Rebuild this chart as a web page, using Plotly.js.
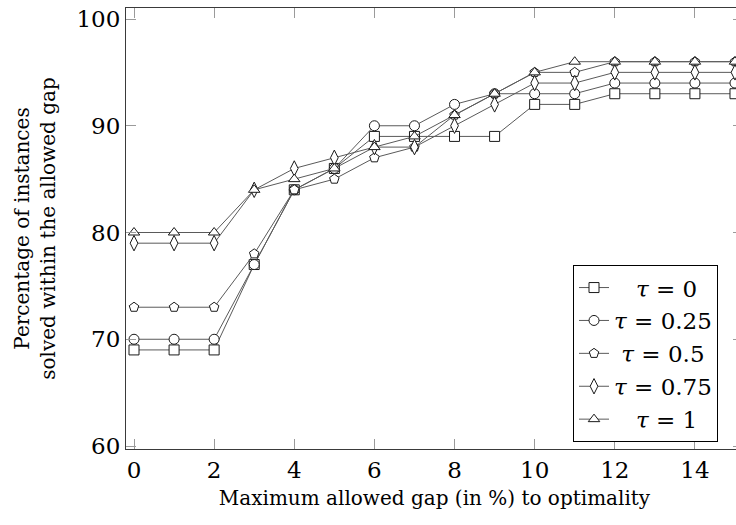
<!DOCTYPE html>
<html>
<head>
<meta charset="utf-8">
<script src="https://cdn.plot.ly/plotly-3.0.1.min.js"></script>
<style>
html, body { margin: 0; padding: 0; overflow: hidden; background: #fff; }
#chart { width: 745px; height: 525px; }
</style>
</head>
<body>
<div id="chart"></div>
<script>
// Maximum allowed gap (%) to optimality
const gap = [0, 1, 2, 3, 4, 5, 6, 7, 8, 9, 10, 11, 12, 13, 14, 15];

// Percentage of instances solved within the allowed gap, per tau
const tau0    = [69, 69, 69, 77, 84, 86, 89, 89, 89, 89, 92, 92, 93, 93, 93, 93];
const tau025  = [70, 70, 70, 77, 84, 86, 90, 90, 92, 93, 93, 93, 94, 94, 94, 94];
const tau05   = [73, 73, 73, 78, 84, 85, 87, 88, 91, 93, 95, 95, 96, 96, 96, 96];
const tau075  = [79, 79, 79, 84, 86, 87, 88, 88, 90, 92, 94, 94, 95, 95, 95, 95];
const tau1    = [80, 80, 80, 84, 85, 86, 88, 89, 91, 93, 95, 96, 96, 96, 96, 96];

const seriesNames = [
  "\u00a0\u00a0\u00a0<i>τ</i> = 0",
  "<i>τ</i> = 0.25",
  "\u00a0<i>τ</i> = 0.5",
  "<i>τ</i> = 0.75",
  "\u00a0\u00a0\u00a0<i>τ</i> = 1"
];
const seriesValues = [tau0, tau025, tau05, tau075, tau1];
const seriesSymbols = ["square", "circle", "pentagon", "diamond-tall", "triangle-up"];
const seriesSizes = [10, 10, 10, 11, 10];

const xTicks = [0, 2, 4, 6, 8, 10, 12, 14];
const yTicks = [60, 70, 80, 90, 100];

const FONT = "DejaVu Serif, serif";
const FS = 20;     // axis titles
const FT = 23;     // tick labels and legend

const traces = seriesValues.map((vals, i) => ({
  x: gap,
  y: vals,
  name: seriesNames[i],
  type: "scatter",
  mode: "lines+markers",
  line: { color: "#5a5a5a", width: 1 },
  marker: {
    symbol: seriesSymbols[i],
    size: seriesSizes[i],
    color: "#ffffff",
    line: { color: "#1a1a1a", width: 1 }
  },
  cliponaxis: false
}));

const layout = {
  width: 745,
  height: 525,
  margin: { l: 126, r: 2, t: 8, b: 76 },
  paper_bgcolor: "#ffffff",
  plot_bgcolor: "#ffffff",
  font: { family: FONT, size: FS, color: "#000000" },
  showlegend: true,
  legend: {
    x: 0.9595, xanchor: "right",
    y: 0.417, yanchor: "top",
    bgcolor: "#ffffff",
    bordercolor: "#000000",
    borderwidth: 1,
    font: { family: FONT, size: FT, color: "#000000" },
    itemwidth: 30,
    tracegroupgap: 0
  },
  xaxis: {
    range: [-0.2, 15.2],
    tickvals: xTicks,
    ticktext: xTicks.map(String),
    ticks: "inside",
    ticklen: 10,
    tickwidth: 1,
    tickcolor: "#9a9a9a",
    showline: true,
    linecolor: "#3a3a3a",
    linewidth: 1,
    mirror: "allticks",
    showgrid: false,
    zeroline: false,
    tickfont: { family: FONT, size: FT, color: "#000000" },
    title: {
      text: "Maximum allowed gap (in %) to optimality",
      font: { family: FONT, size: FS, color: "#000000" },
      standoff: 9
    }
  },
  yaxis: {
    range: [59.72, 101.03],
    tickvals: yTicks,
    ticktext: yTicks.map(String),
    ticks: "inside",
    ticklen: 10,
    tickwidth: 1,
    tickcolor: "#9a9a9a",
    showline: true,
    linecolor: "#3a3a3a",
    linewidth: 1,
    mirror: "allticks",
    showgrid: false,
    zeroline: false,
    tickfont: { family: FONT, size: FT, color: "#000000" },
    title: {
      text: "Percentage of instances<br>solved within the allowed gap",
      font: { family: FONT, size: FS, color: "#000000" },
      standoff: 15
    }
  }
};

Plotly.newPlot("chart", traces, layout, { displayModeBar: false, staticPlot: true });
</script>
</body>
</html>
